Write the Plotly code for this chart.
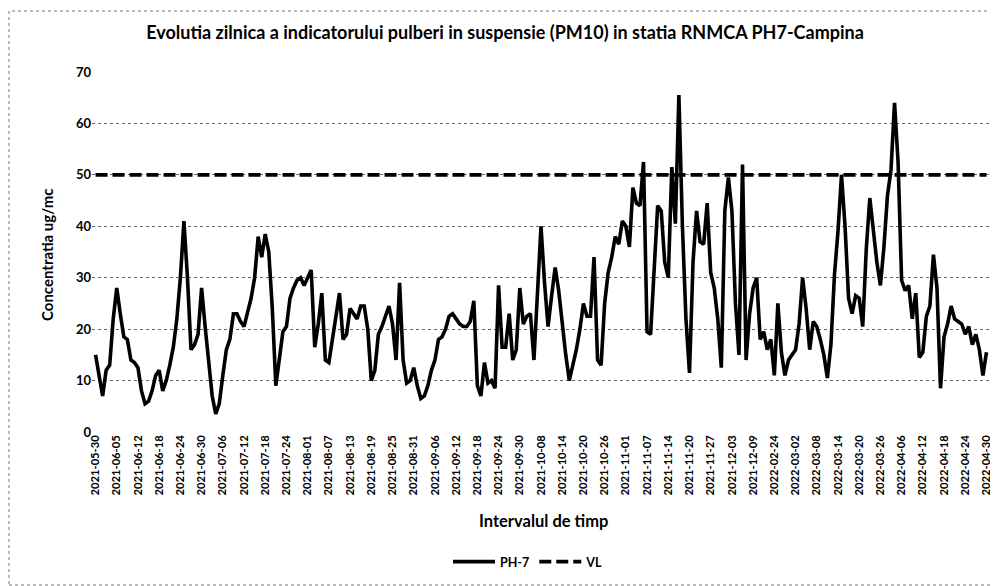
import plotly.graph_objects as go

pm10 = [
    15, 11, 7, 12, 13, 22, 28, 23, 18.5, 18,
    14, 13.5, 12.5, 8, 5.5, 6, 8, 11, 12, 8,
    10, 13, 16.5, 22, 30, 41, 30, 16, 17, 19,
    28, 20.5, 13, 7, 3.5, 5.5, 11, 16, 18, 23,
    23, 21.5, 20.5, 23, 26, 30, 38, 34, 38.5, 35,
    24, 9, 14, 19.5, 20.5, 26, 28, 29.5, 30, 28.5,
    30, 31.5, 16.5, 21, 27, 14, 13.5, 18, 23.5, 27,
    18, 19, 24, 23, 22, 24.5, 24.5, 20, 10, 12,
    19, 20.5, 22.5, 24.5, 21, 14, 29, 14, 9.5, 10,
    12.5, 9, 6.5, 7, 9, 12, 14, 18, 18.5, 20,
    22.5, 23, 22, 21, 20.5, 20.5, 21.5, 25.5, 9, 7,
    13.5, 9.5, 10, 8.5, 28.5, 16.5, 16.5, 23, 14, 16,
    28, 21, 22.5, 23, 14, 28, 40, 29, 20.5, 26.5,
    32, 27.5, 21, 15, 10, 13, 16, 20, 25, 22.5,
    22.5, 34, 14, 13, 25, 31, 34, 38, 36.5, 41,
    40, 36, 47.5, 44.5, 44, 52.5, 19.5, 19, 30.5, 44,
    43, 33, 30, 51.5, 40.5, 65.5, 40, 22, 11.5, 33,
    43, 37, 36.5, 44.5, 31, 28, 22, 12.5, 43, 49.5,
    43, 25, 15, 52, 14, 23, 28, 30, 18, 19.5,
    16, 18, 11, 25, 15.5, 11, 14, 15, 16, 21,
    30, 24, 16, 21.5, 20.5, 18, 15, 10.5, 17, 30.5,
    39, 50, 40, 26, 23, 26.5, 26, 20.5, 35.5, 45.5,
    38.5, 33, 28.5, 36, 46, 51, 64, 52.5, 29.5, 27.5,
    28.5, 22, 27, 14.5, 15.5, 22.5, 24.5, 34.5, 28, 8.5,
    18.5, 21, 24.5, 22, 21.5, 21, 19, 20.5, 17, 19,
    16, 11, 15.5,
]

# Limit value (VL) for PM10
vl_limit = 50

# Category labels shown on the axis (every 6th measurement day)
tick_labels = [
    "2021-05-30", "2021-06-05", "2021-06-12", "2021-06-18", "2021-06-24",
    "2021-06-30", "2021-07-06", "2021-07-12", "2021-07-18", "2021-07-24",
    "2021-08-01", "2021-08-07", "2021-08-13", "2021-08-19", "2021-08-25",
    "2021-08-31", "2021-09-06", "2021-09-12", "2021-09-18", "2021-09-24",
    "2021-09-30", "2021-10-08", "2021-10-14", "2021-10-20", "2021-10-26",
    "2021-11-01", "2021-11-07", "2021-11-14", "2021-11-20", "2021-11-27",
    "2021-12-03", "2021-12-09", "2022-02-24", "2022-03-02", "2022-03-08",
    "2022-03-14", "2022-03-20", "2022-03-26", "2022-04-06", "2022-04-12",
    "2022-04-18", "2022-04-24", "2022-04-30",
]
label_step = 6
y_ticks = [0, 10, 20, 30, 40, 50, 60, 70]

idx = list(range(len(pm10)))
vl = [vl_limit] * len(pm10)
tick_positions = idx[::label_step]

FONT = "Lato"

fig = go.Figure()
fig.add_trace(go.Scatter(
    x=idx, y=pm10, mode="lines", name="PH-7",
    line=dict(color="black", width=3.6),
))
fig.add_trace(go.Scatter(
    x=idx, y=vl, mode="lines", name="VL",
    line=dict(color="black", width=3.6, dash="12px,5px"),
))

# page offset of the figure div (default body margin)
OFF = 8
W, H = 998 - OFF, 586 - OFF
# target plot area in page pixels
PL, PR, PT, PB = 92, 990, 72, 432
L, T = PL - OFF, PT - OFF
R, B = W - (PR - OFF), H - (PB - OFF)
pw, ph = W - L - R, H - T - B

def px_x(x):
    return (x - OFF - L) / pw

def px_y(y):
    return (H - B - (y - OFF)) / ph

fig.update_layout(
    width=W, height=H,
    margin=dict(l=L, r=R, t=T, b=B, autoexpand=False),
    paper_bgcolor="white", plot_bgcolor="white",
    font=dict(family=FONT, color="black"),
    showlegend=True,
    legend=dict(
        orientation="h", x=px_x(528), xanchor="center",
        y=px_y(562), yanchor="middle",
        font=dict(size=12.5, weight="bold"),
        bgcolor="rgba(0,0,0,0)", itemwidth=42,
    ),
    title=dict(
        text="Evolutia zilnica a indicatorului pulberi in suspensie (PM10) in statia RNMCA PH7-Campina",
        x=px_x(505), xanchor="center", xref="paper",
        y=1 - (33 - OFF) / H, yanchor="middle",
        font=dict(size=18, family=FONT, weight="bold"),
    ),
    xaxis=dict(
        range=[-1, len(pm10)],
        tickmode="array", tickvals=tick_positions, ticktext=tick_labels,
        tickangle=-90, tickfont=dict(size=11.2, weight="bold"),
        showgrid=False, zeroline=False, showline=False, ticks="",
        automargin=False,
    ),
    yaxis=dict(
        range=[0, 70], tickvals=y_ticks,
        tickfont=dict(size=13, weight="bold"),
        showgrid=True, gridcolor="#666", gridwidth=1, griddash="dot",
        zeroline=False, showline=False, ticks="", automargin=False,
    ),
    annotations=[
        dict(text="Concentratia ug/mc", xref="paper", yref="paper",
             x=px_x(47), y=px_y(255), textangle=-90, showarrow=False,
             font=dict(size=15, weight="bold"), xanchor="center", yanchor="middle"),
        dict(text="Intervalul de timp", xref="paper", yref="paper",
             x=px_x(543), y=px_y(521), showarrow=False,
             font=dict(size=16.5, weight="bold"), xanchor="center", yanchor="middle"),
    ],
    shapes=[
        dict(type="rect", xref="paper", yref="paper",
             x0=px_x(9), x1=px_x(994), y0=px_y(585), y1=px_y(11),
             line=dict(color="#777", width=1, dash="dot")),
    ],
)

fig.write_html("out.html")
